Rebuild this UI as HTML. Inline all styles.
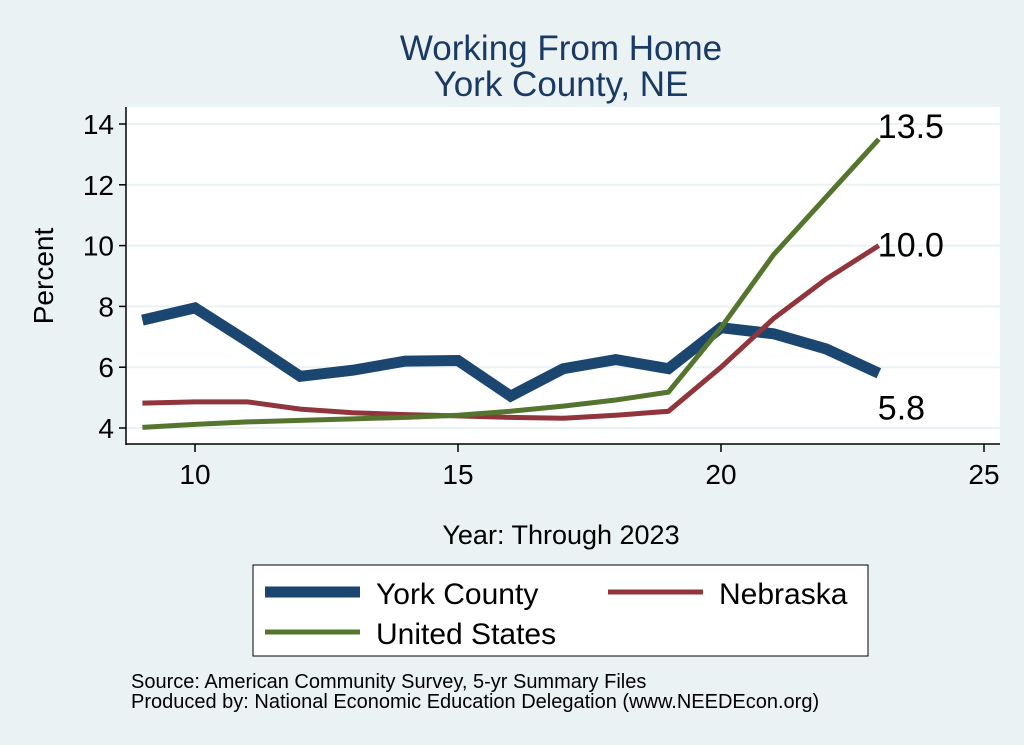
<!DOCTYPE html>
<html><head><meta charset="utf-8"><style>body{margin:0;background:#eaf2f3}svg{display:block}</style></head>
<body>
<svg width="1024" height="745" xmlns="http://www.w3.org/2000/svg" font-family="Liberation Sans, sans-serif">
<rect width="1024" height="745" fill="#eaf2f3"/>
<text x="561" y="60" text-anchor="middle" font-size="35" fill="#1a3a64">Working From Home</text>
<text x="561" y="96" text-anchor="middle" font-size="35" fill="#1a3a64">York County, NE</text>
<rect x="126" y="107" width="874" height="337" fill="#fff"/>
<g id="grid"></g><g id="axes"></g><g id="series"></g>
<text transform="translate(53,276) rotate(-90)" text-anchor="middle" font-size="28" fill="#000">Percent</text>
<text x="561" y="544" text-anchor="middle" font-size="27" fill="#000">Year: Through 2023</text>
<g>
<rect x="253" y="565" width="615" height="91" fill="#fff" stroke="#000" stroke-width="1"/>
<line x1="265" y1="592" x2="360" y2="592" stroke="#1a4670" stroke-width="11"/>
<text x="376" y="604" font-size="30">York County</text>
<line x1="608" y1="592" x2="703" y2="592" stroke="#90353b" stroke-width="5"/>
<text x="719" y="604" font-size="30">Nebraska</text>
<line x1="265" y1="632" x2="360" y2="632" stroke="#55752f" stroke-width="5"/>
<text x="376" y="644" font-size="30">United States</text>
</g>
<text x="131" y="688" font-size="20">Source: American Community Survey, 5-yr Summary Files</text>
<text x="131" y="708" font-size="20">Produced by: National Economic Education Delegation (www.NEEDEcon.org)</text>
</svg>
<script>
const years=[9,10,11,12,13,14,15,16,17,18,19,20,21,22,23];
const york=[7.55,7.95,6.85,5.7,5.9,6.2,6.22,5.05,5.95,6.25,5.95,7.3,7.1,6.6,5.8];
const nebraska=[4.82,4.86,4.86,4.62,4.5,4.44,4.4,4.35,4.32,4.42,4.55,6.0,7.6,8.9,10.0];
const us=[4.02,4.12,4.2,4.25,4.3,4.35,4.42,4.55,4.72,4.92,5.18,7.3,9.7,11.6,13.5];
const yTicks=[4,6,8,10,12,14];
const xTicks=[10,15,20,25];
const NS='http://www.w3.org/2000/svg';
const xs=v=>195+(v-10)*52.6;
const ys=v=>428-(v-4)*30.4;
function mk(t,a,p){const e=document.createElementNS(NS,t);for(const k in a)e.setAttribute(k,a[k]);p.appendChild(e);return e;}
const g=document.getElementById('grid'),ax=document.getElementById('axes'),s=document.getElementById('series');
yTicks.forEach(v=>{
 const l=mk('line',{x1:127,x2:1000,y1:ys(v),y2:ys(v),stroke:'#eaf2f3','stroke-width':2},g);
 
 
 mk('line',{x1:119,x2:126,y1:ys(v),y2:ys(v),stroke:'#000','stroke-width':1.5},ax);
 const t=mk('text',{x:114,y:ys(v)+10,'text-anchor':'end','font-size':28},ax);t.textContent=v;
 
 
});
xTicks.forEach(v=>{
 mk('line',{x1:xs(v),x2:xs(v),y1:444,y2:452,stroke:'#000','stroke-width':1.5},ax);
 const t=mk('text',{x:xs(v),y:484,'text-anchor':'middle','font-size':28},ax);t.textContent=v;
 
 
});
mk('line',{x1:126,x2:126,y1:107,y2:445,stroke:'#000','stroke-width':1.5},ax);
mk('line',{x1:126,x2:1000,y1:444,y2:444,stroke:'#000','stroke-width':1.5},ax);
function line(arr,col,w,name){
 const p=mk('polyline',{points:arr.map((v,i)=>xs(years[i])+','+ys(v)).join(' '),fill:'none',stroke:col,'stroke-width':w,'stroke-linejoin':'miter'},s);
 
 
}
line(york,'#1a4670',11,'york-line');
line(nebraska,'#90353b',5,'nebraska-line');
line(us,'#55752f',5,'us-line');
const last=years.length-1;
[[us,-13,'us-end-label'],[nebraska,-1,'nebraska-end-label'],[york,34,'york-end-label']].forEach(([a,dy,n])=>{
 const t=mk('text',{x:xs(years[last])-1,y:ys(a[last])+12+dy,'font-size':34},s);
 t.textContent=a[last].toFixed(1);
 
 
});
</script>
</body></html>
